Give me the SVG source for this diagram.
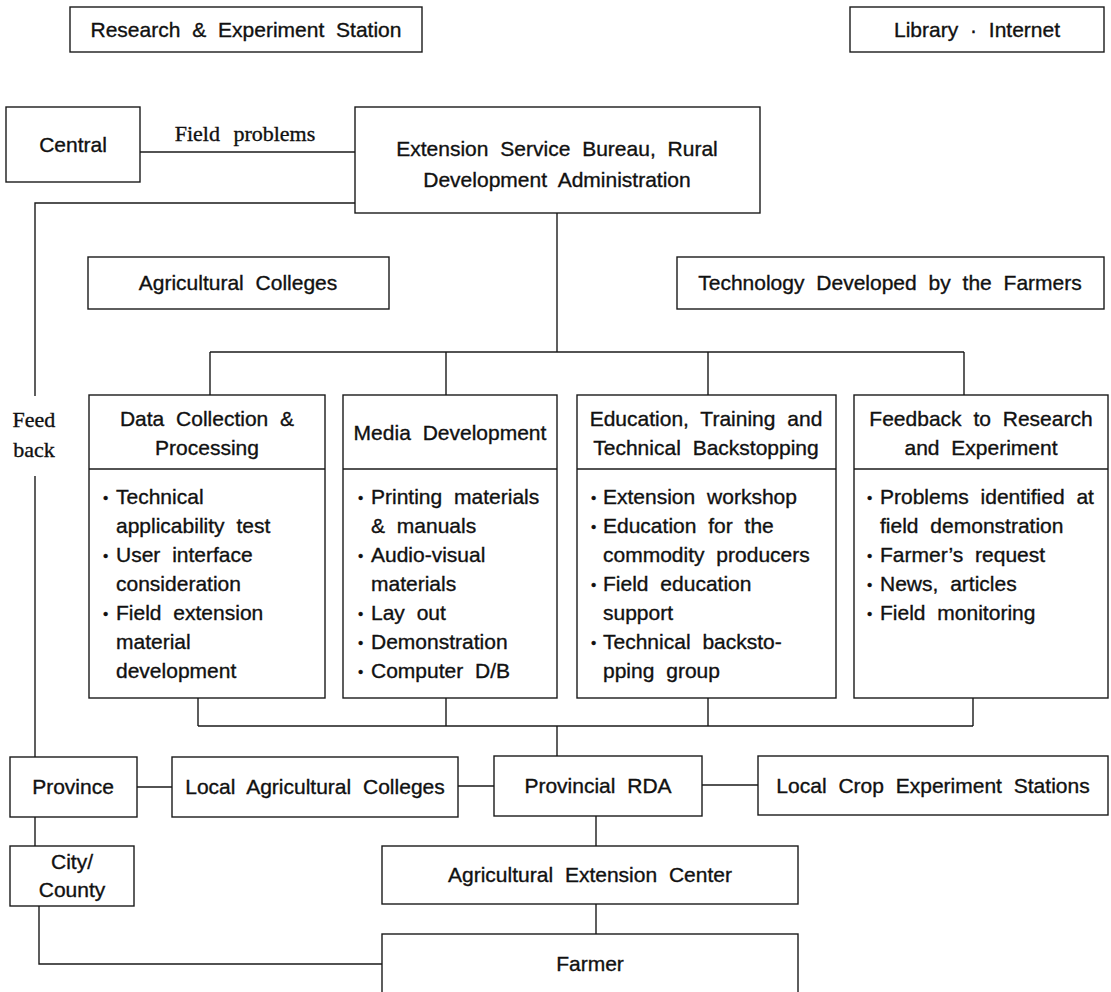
<svg xmlns="http://www.w3.org/2000/svg" width="1111" height="992" viewBox="0 0 1111 992">
<style>
  .box { fill: #fff; stroke: #1a1a1a; stroke-width: 1.4; }
  .ln { fill: none; stroke: #1a1a1a; stroke-width: 1.4; }
  text { font-family: "Liberation Sans", Arial, sans-serif; font-size: 21px; fill: #111; stroke: #111; stroke-width: 0.35; word-spacing: 6px; }
  .c { text-anchor: middle; }
  .serif { font-family: "Liberation Serif", "Times New Roman", serif; font-size: 22px; }
  .b { font-size: 15px; }
</style>
<rect width="1111" height="992" fill="#fff"/>

<g id="connectors">
  <path class="ln" d="M140 152 H355"/>
  <path class="ln" d="M355 203 H35 V396"/>
  <path class="ln" d="M35 476 V757"/>
  <path class="ln" d="M557 213 V352"/>
  <path class="ln" d="M210 352 H964"/>
  <path class="ln" d="M210 352 V395 M446 352 V395 M708 352 V395 M964 352 V395"/>
  <path class="ln" d="M198 698 V726 M446 698 V726 M708 698 V726 M973 698 V726"/>
  <path class="ln" d="M198 726 H973"/>
  <path class="ln" d="M557 726 V756"/>
  <path class="ln" d="M137 787 H172"/>
  <path class="ln" d="M458 786 H494"/>
  <path class="ln" d="M702 785 H758"/>
  <path class="ln" d="M35 817 V846"/>
  <path class="ln" d="M39 906 V964 H382"/>
  <path class="ln" d="M596 816 V846"/>
  <path class="ln" d="M596 904 V934"/>
  <text class="serif c" x="245" y="141" style="word-spacing:8px">Field problems</text>
  <text class="serif c" x="34" y="427">Feed</text>
  <text class="serif c" x="34" y="457">back</text>
</g>

<g id="research">
  <rect class="box" x="70" y="7" width="352" height="45"/>
  <text class="c" x="246" y="37">Research &amp; Experiment Station</text>
</g>
<g id="library">
  <rect class="box" x="850" y="7" width="254" height="45"/>
  <text class="c" x="977" y="37">Library · Internet</text>
</g>
<g id="central">
  <rect class="box" x="6" y="107" width="134" height="75"/>
  <text class="c" x="73" y="152">Central</text>
</g>
<g id="esb">
  <rect class="box" x="355" y="107" width="405" height="106"/>
  <text class="c" x="557" y="156">Extension Service Bureau, Rural</text>
  <text class="c" x="557" y="187">Development Administration</text>
</g>
<g id="agcolleges">
  <rect class="box" x="88" y="257" width="301" height="52"/>
  <text class="c" x="238" y="290">Agricultural Colleges</text>
</g>
<g id="techfarmers">
  <rect class="box" x="677" y="257" width="427" height="52"/>
  <text class="c" x="890" y="290">Technology Developed by the Farmers</text>
</g>

<g id="datacollection">
  <rect class="box" x="89" y="395" width="236" height="303"/>
  <path class="ln" d="M89 469 H325"/>
  <text class="c" x="207" y="426">Data Collection &amp;</text>
  <text class="c" x="207" y="455">Processing</text>
  <text x="116" y="504"><tspan class="b" x="103" dy="-1">•</tspan><tspan x="116" dy="1">Technical</tspan></text>
  <text x="116" y="533">applicability test</text>
  <text x="116" y="562"><tspan class="b" x="103" dy="-1">•</tspan><tspan x="116" dy="1">User interface</tspan></text>
  <text x="116" y="591">consideration</text>
  <text x="116" y="620"><tspan class="b" x="103" dy="-1">•</tspan><tspan x="116" dy="1">Field extension</tspan></text>
  <text x="116" y="649">material</text>
  <text x="116" y="678">development</text>
</g>

<g id="media">
  <rect class="box" x="343" y="395" width="214" height="303"/>
  <path class="ln" d="M343 469 H557"/>
  <text class="c" x="450" y="440">Media Development</text>
  <text x="371" y="504"><tspan class="b" x="358" dy="-1">•</tspan><tspan x="371" dy="1">Printing materials</tspan></text>
  <text x="371" y="533">&amp; manuals</text>
  <text x="371" y="562"><tspan class="b" x="358" dy="-1">•</tspan><tspan x="371" dy="1">Audio-visual</tspan></text>
  <text x="371" y="591">materials</text>
  <text x="371" y="620"><tspan class="b" x="358" dy="-1">•</tspan><tspan x="371" dy="1">Lay out</tspan></text>
  <text x="371" y="649"><tspan class="b" x="358" dy="-1">•</tspan><tspan x="371" dy="1">Demonstration</tspan></text>
  <text x="371" y="678"><tspan class="b" x="358" dy="-1">•</tspan><tspan x="371" dy="1">Computer D/B</tspan></text>
</g>

<g id="education">
  <rect class="box" x="577" y="395" width="259" height="303"/>
  <path class="ln" d="M577 469 H836"/>
  <text class="c" x="706" y="426">Education, Training and</text>
  <text class="c" x="706" y="455">Technical Backstopping</text>
  <text x="603" y="504"><tspan class="b" x="591" dy="-1">•</tspan><tspan x="603" dy="1">Extension workshop</tspan></text>
  <text x="603" y="533"><tspan class="b" x="591" dy="-1">•</tspan><tspan x="603" dy="1">Education for the</tspan></text>
  <text x="603" y="562">commodity producers</text>
  <text x="603" y="591"><tspan class="b" x="591" dy="-1">•</tspan><tspan x="603" dy="1">Field education</tspan></text>
  <text x="603" y="620">support</text>
  <text x="603" y="649"><tspan class="b" x="591" dy="-1">•</tspan><tspan x="603" dy="1">Technical backsto-</tspan></text>
  <text x="603" y="678">pping group</text>
</g>

<g id="feedback">
  <rect class="box" x="854" y="395" width="254" height="303"/>
  <path class="ln" d="M854 469 H1108"/>
  <text class="c" x="981" y="426">Feedback to Research</text>
  <text class="c" x="981" y="455">and Experiment</text>
  <text x="880" y="504"><tspan class="b" x="867" dy="-1">•</tspan><tspan x="880" dy="1">Problems identified at</tspan></text>
  <text x="880" y="533">field demonstration</text>
  <text x="880" y="562"><tspan class="b" x="867" dy="-1">•</tspan><tspan x="880" dy="1">Farmer’s request</tspan></text>
  <text x="880" y="591"><tspan class="b" x="867" dy="-1">•</tspan><tspan x="880" dy="1">News, articles</tspan></text>
  <text x="880" y="620"><tspan class="b" x="867" dy="-1">•</tspan><tspan x="880" dy="1">Field monitoring</tspan></text>
</g>

<g id="province">
  <rect class="box" x="10" y="757" width="127" height="60"/>
  <text class="c" x="73" y="794">Province</text>
</g>
<g id="localcolleges">
  <rect class="box" x="172" y="757" width="286" height="60"/>
  <text class="c" x="315" y="794">Local Agricultural Colleges</text>
</g>
<g id="provincialrda">
  <rect class="box" x="494" y="756" width="208" height="60"/>
  <text class="c" x="598" y="793">Provincial RDA</text>
</g>
<g id="localcrop">
  <rect class="box" x="758" y="756" width="350" height="59"/>
  <text class="c" x="933" y="793">Local Crop Experiment Stations</text>
</g>
<g id="citycounty">
  <rect class="box" x="10" y="846" width="124" height="60"/>
  <text class="c" x="72" y="869">City/</text>
  <text class="c" x="72" y="897">County</text>
</g>
<g id="extcenter">
  <rect class="box" x="382" y="846" width="416" height="58"/>
  <text class="c" x="590" y="882">Agricultural Extension Center</text>
</g>
<g id="farmer">
  <rect class="box" x="382" y="934" width="416" height="70"/>
  <text class="c" x="590" y="971">Farmer</text>
</g>
</svg>
